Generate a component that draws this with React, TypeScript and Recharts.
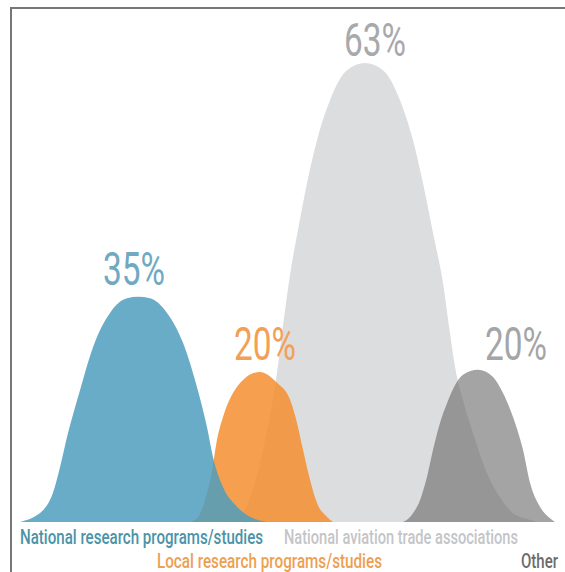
import React from 'react';
import { AreaChart, Area, XAxis, YAxis, ReferenceDot, Customized } from 'recharts';

const categories = [
  'National research programs/studies',
  'Local research programs/studies',
  'National aviation trade associations',
  'Other',
];
const shares = [35, 20, 63, 20];

// bell outlines: [position, height]
const nationalCurve = [
  [4, 0], [8.6, 1.6], [10.6, 4], [12, 7.5], [13.6, 12.2], [16, 18.1], [18.6, 24], [22, 28.7],
  [25.4, 30.7], [27.6, 30.9], [30, 30.7], [33.4, 28.7], [36.6, 24.6], [39.4, 18.5], [41.4, 13],
  [42.6, 8.9], [44.6, 4.8], [47.4, 2.1], [51.4, 0.3], [53.4, 0],
];
const localCurve = [
  [38, 0], [39.4, 0.5], [41, 3], [42.4, 7], [43.4, 11.3], [44.6, 14.4], [46.6, 17.7], [48.6, 19.5],
  [52, 20.6], [55.4, 19.1], [58, 16.8], [59.4, 13.6], [60.6, 9.9], [62, 5.8], [63.4, 2.6],
  [65.4, 0.7], [66.6, 0],
];
const aviationCurve = [
  [45.6, 0], [47.6, 0.7], [49.4, 2.3], [51, 5.4], [52.4, 9.2], [53.6, 13.3], [54.8, 17.7],
  [55.8, 22.5], [56.8, 28], [58, 33.9], [59.6, 40.1], [61.4, 46.5], [63.4, 52.4], [66, 57.9],
  [69.4, 62], [73, 63], [76.6, 62], [80, 57.9], [82.6, 52.4], [84.6, 46.5], [86.6, 39.7],
  [88.6, 32.8], [90, 25.9], [91, 21.3], [92.6, 16.7], [94.6, 12.2], [97.4, 6.7], [100, 3.4],
  [102.6, 1.2], [106, 0.3], [107.4, 0],
];
const otherCurve = [
  [80.6, 0], [81.4, 0.3], [82.6, 1.2], [84, 3], [85.4, 6.2], [86.6, 9.9], [88, 13.6], [89.4, 16.3],
  [92.6, 20.2], [95.6, 20.9], [98.6, 19.9], [100.6, 17.7], [102.6, 14.4], [104.6, 9.9], [106, 5.4],
  [108, 2.1], [110, 0.5], [111, 0],
];

const FONT = 'Roboto, "Liberation Sans", sans-serif';
const SQUEEZE = 0.72; // the original uses a condensed face

const toRows = (pts: number[][]) => pts.map(([x, v]) => ({ x, v }));

const peakOf = (pts: number[][]) => pts.reduce((a, b) => (b[1] > a[1] ? b : a), pts[0]);

// drawing order: back to front
const series = [
  { key: 'aviation', idx: 2, curve: aviationCurve, fill: '#dcdddf', opacity: 1, labelColor: '#a8a9ab', dx: 10, dy: -7 },
  { key: 'local', idx: 1, curve: localCurve, fill: '#f38e30', opacity: 0.85, labelColor: '#f2a055', dx: 5, dy: -12 },
  { key: 'national', idx: 0, curve: nationalCurve, fill: '#4e9ebd', opacity: 0.85, labelColor: '#70a9c2', dx: -4, dy: -12 },
  { key: 'other', idx: 3, curve: otherCurve, fill: '#676767', opacity: 0.6, labelColor: '#a4a5a7', dx: 38, dy: -10 },
];

// squeezed svg text, anchored at (x, y)
const NarrowText = ({ x, y, w, anchor, color, size, weight, children }: any) => (
  <g transform={`translate(${x},${y}) scale(${SQUEEZE},1)`}>
    <text
      x={0}
      y={0}
      textAnchor={anchor}
      fill={color}
      fontFamily={FONT}
      fontSize={size}
      fontWeight={weight}
      textLength={w / SQUEEZE}
      lengthAdjust="spacingAndGlyphs"
    >
      {children}
    </text>
  </g>
);

const peakLabel = (s: any) => (props: any) => {
  const vb = props.viewBox || {};
  const cx = vb.x + (vb.width || 0) / 2;
  const cy = vb.y + (vb.height || 0) / 2;
  return (
    <NarrowText x={cx + s.dx} y={cy + s.dy} w={62} anchor="middle" color={s.labelColor} size={47} weight={400}>
      {shares[s.idx]}%
    </NarrowText>
  );
};

// category captions under the bells
const captions = [
  { idx: 0, x: 20, y: 544, w: 243, color: '#4a93a8' },
  { idx: 2, x: 284, y: 544, w: 234, color: '#c4c5c7' },
  { idx: 1, x: 157, y: 568, w: 225, color: '#eda052' },
  { idx: 3, x: 521, y: 568, w: 37, color: '#6b6b6b' },
];

const Captions = () => (
  <g>
    {captions.map(c => (
      <NarrowText key={c.idx} x={c.x} y={c.y} w={c.w} anchor="start" color={c.color} size={21} weight={500}>
        {categories[c.idx]}
      </NarrowText>
    ))}
  </g>
);

const App: React.FC = () => {
  return (
    <div style={{ position: 'absolute', left: 0, top: 0, width: 565, height: 572, background: '#fff' }}>
      <AreaChart width={565} height={572} margin={{ top: 12, right: 0, bottom: 50, left: 0 }}>
        <XAxis type="number" dataKey="x" domain={[0, 113]} hide allowDataOverflow />
        <YAxis type="number" domain={[0, 70]} hide allowDataOverflow />
        {series.map(s => (
          <Area
            key={s.key}
            data={toRows(s.curve)}
            dataKey="v"
            name={categories[s.idx]}
            type="monotone"
            stroke="none"
            fill={s.fill}
            fillOpacity={s.opacity}
            dot={false}
            activeDot={false}
            isAnimationActive={false}
          />
        ))}
        {series.map(s => {
          const [px, pv] = peakOf(s.curve);
          return (
            <ReferenceDot
              key={`peak-${s.key}`}
              x={px}
              y={pv}
              r={0}
              fill="none"
              stroke="none"
              ifOverflow="visible"
              label={{ content: peakLabel(s) }}
            />
          );
        })}
        <Customized component={<Captions />} />
      </AreaChart>
      <div
        style={{
          position: 'absolute',
          left: 10,
          top: 7,
          right: 0,
          bottom: 0,
          borderTop: '2px solid #777',
          borderLeft: '2px solid #777',
          pointerEvents: 'none',
        }}
      />
    </div>
  );
};

export default App;
